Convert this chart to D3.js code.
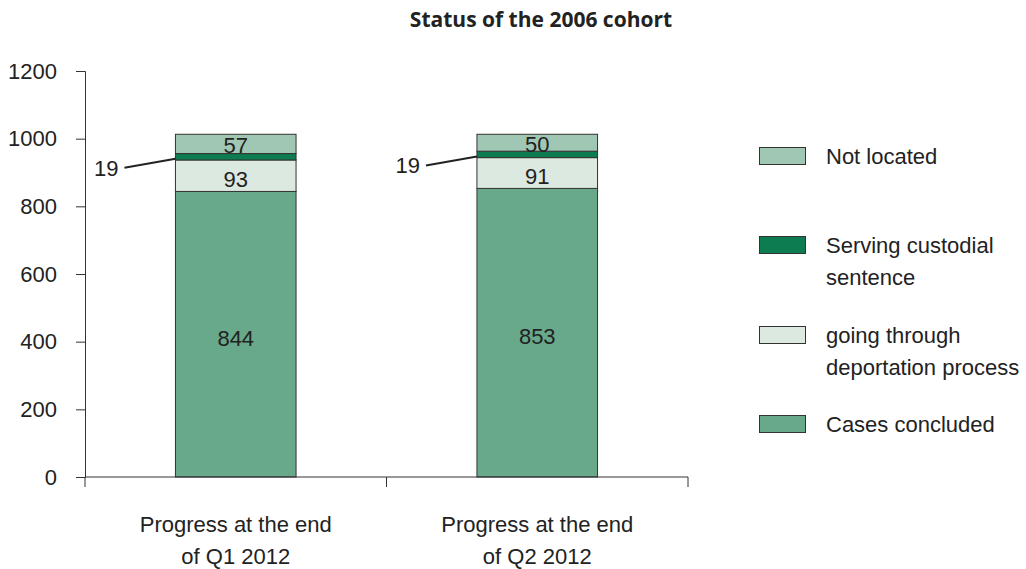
<!DOCTYPE html>
<html>
<head>
<meta charset="utf-8">
<script src="https://cdn.jsdelivr.net/npm/d3@7"></script>
<style>
  body { margin: 0; background: #fff; }
  text { font-family: "Liberation Sans", Arial, sans-serif; fill: #222; }
  .axis path, .axis line { stroke: #333; }
</style>
</head>
<body>
<script>
// data
var categories = ["Progress at the end of Q1 2012", "Progress at the end of Q2 2012"];
var catLines = [["Progress at the end", "of Q1 2012"], ["Progress at the end", "of Q2 2012"]];
var seriesNames = ["Cases concluded", "going through deportation process", "Serving custodial sentence", "Not located"];
var casesConcluded = [844, 853];
var deportation = [93, 91];
var custodial = [19, 19];
var notLocated = [57, 50];
var yTicks = [0, 200, 400, 600, 800, 1000, 1200];

var colors = ["#67a98a", "#dce9e0", "#0d7c50", "#a0c7b3"];

var width = 1026, height = 569;
var margin = {top: 71, left: 85, right: 338, bottom: 92};
var plotW = width - margin.left - margin.right,
    plotH = height - margin.top - margin.bottom;
var fs = "22px";

var svg = d3.select("body").append("svg")
    .attr("width", width)
    .attr("height", height);

svg.append("text")
    .attr("x", 541)
    .attr("y", 27)
    .attr("text-anchor", "middle")
    .style("font-family", "'Open Sans', sans-serif")
    .style("font-weight", "bold")
    .style("font-size", "21px")
    .text("Status of the 2006 cohort");

var g = svg.append("g")
    .attr("transform", "translate(" + margin.left + "," + margin.top + ")");

var x = d3.scaleBand().domain(categories).range([0, plotW]).paddingInner(0).paddingOuter(0);
var y = d3.scaleLinear().domain([0, 1200]).range([plotH, 0]);

// build rows for the stack
var rows = categories.map(function(c, i) {
    return {cat: c, s0: casesConcluded[i], s1: deportation[i], s2: custodial[i], s3: notLocated[i]};
});
var stack = d3.stack().keys(["s0", "s1", "s2", "s3"]);
var layers = stack(rows);

var barW = x.bandwidth() * 0.4;

var layer = g.selectAll(".layer")
    .data(layers)
    .enter().append("g")
    .attr("class", "layer")
    .attr("fill", function(d, i) { return colors[i]; });

layer.selectAll("rect")
    .data(function(d) { return d; })
    .enter().append("rect")
    .attr("x", function(d) { return x(d.data.cat) + (x.bandwidth() - barW) / 2; })
    .attr("y", function(d) { return y(d[1]); })
    .attr("width", barW)
    .attr("height", function(d) { return y(d[0]) - y(d[1]); })
    .attr("stroke", "#333")
    .attr("stroke-width", 1);

// value labels inside segments (except the thin custodial one)
layers.forEach(function(l, li) {
    if (li === 2) return;
    l.forEach(function(d) {
        var cy = (y(d[0]) + y(d[1])) / 2;
        g.append("text")
            .attr("x", x(d.data.cat) + x.bandwidth() / 2)
            .attr("y", cy)
            .attr("dy", li === 3 ? "0.42em" : "0.52em")
            .attr("text-anchor", "middle")
            .style("font-size", fs)
            .text(d[1] - d[0]);
    });
});

// callout labels for the custodial segment
layers[2].forEach(function(d) {
    var left = x(d.data.cat) + (x.bandwidth() - barW) / 2;
    var mid = (y(d[0]) + y(d[1])) / 2 + 2;
    g.append("line")
        .attr("x1", left - 51)
        .attr("y1", mid + 9)
        .attr("x2", left)
        .attr("y2", mid)
        .attr("stroke", "#222")
        .attr("stroke-width", 2);
    g.append("text")
        .attr("x", left - 57)
        .attr("y", mid + 9)
        .attr("dy", "0.36em")
        .attr("text-anchor", "end")
        .style("font-size", fs)
        .text(d[1] - d[0]);
});

// axes
var yAxis = g.append("g")
    .attr("class", "axis")
    .call(d3.axisLeft(y).tickValues(yTicks).tickFormat(d3.format("d")).tickSize(9).tickPadding(19));
yAxis.selectAll("text").style("font-size", fs).style("font-family", "'Liberation Sans', Arial, sans-serif").attr("fill", "#222");

var xAxis = g.append("g")
    .attr("class", "axis")
    .attr("transform", "translate(0," + plotH + ")")
    .call(d3.axisBottom(x).tickSize(0).tickFormat(""));
xAxis.select(".domain").remove();
xAxis.append("line")
    .attr("x1", 0).attr("x2", plotW)
    .attr("stroke", "#333");
var edges = [0, plotW / 2, plotW];
xAxis.selectAll(".edge")
    .data(edges)
    .enter().append("line")
    .attr("class", "edge")
    .attr("x1", function(d) { return d; })
    .attr("x2", function(d) { return d; })
    .attr("y1", 0).attr("y2", 10)
    .attr("stroke", "#333");

categories.forEach(function(c, i) {
    var t = g.append("text")
        .attr("x", x(c) + x.bandwidth() / 2)
        .attr("y", 532 - margin.top)
        .attr("text-anchor", "middle")
        .style("font-size", fs);
    catLines[i].forEach(function(line, k) {
        t.append("tspan")
            .attr("x", x(c) + x.bandwidth() / 2)
            .attr("dy", k === 0 ? 0 : 32)
            .text(line);
    });
});

// legend
var legendItems = [
    {lines: ["Not located"], color: colors[3], y: 147},
    {lines: ["Serving custodial", "sentence"], color: colors[2], y: 236},
    {lines: ["going through", "deportation process"], color: colors[1], y: 326},
    {lines: ["Cases concluded"], color: colors[0], y: 415}
];
var legend = svg.append("g");
legendItems.forEach(function(it) {
    legend.append("rect")
        .attr("x", 759.5)
        .attr("y", it.y + 0.5)
        .attr("width", 46)
        .attr("height", 17)
        .attr("fill", it.color)
        .attr("stroke", "#333");
    var t = legend.append("text")
        .attr("x", 826)
        .attr("y", it.y + 17)
        .style("font-size", fs);
    it.lines.forEach(function(line, k) {
        t.append("tspan")
            .attr("x", 826)
            .attr("dy", k === 0 ? 0 : 32)
            .text(line);
    });
});
</script>
</body>
</html>
